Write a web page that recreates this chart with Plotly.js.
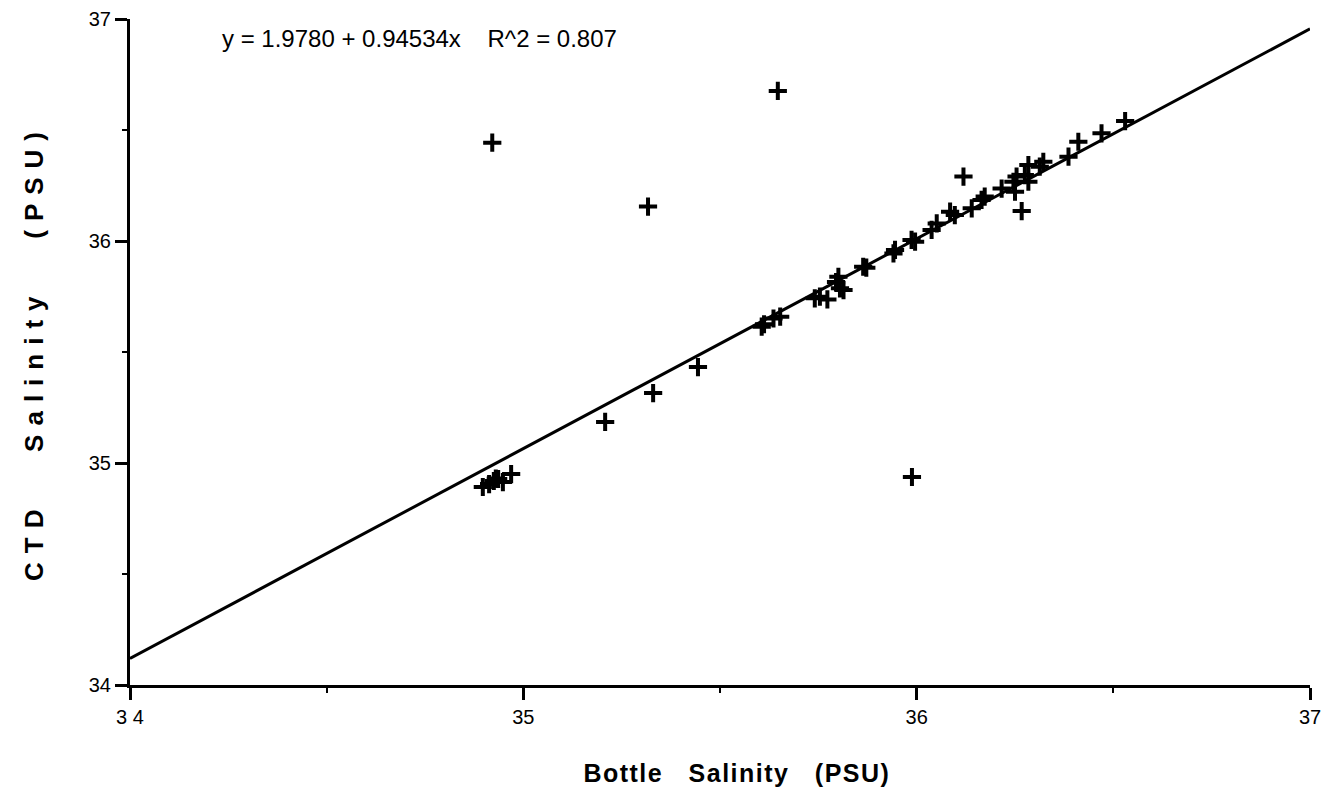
<!DOCTYPE html>
<html>
<head>
<meta charset="utf-8">
<script src="https://cdn.plot.ly/plotly-3.0.1.min.js"></script>
<style>
html,body{margin:0;padding:0;background:#fff;}
#chart{width:1331px;height:806px;}
.xtitle{letter-spacing:1.5px;}
.ytitle{letter-spacing:9px;}
</style>
</head>
<body>
<div id="chart"></div>
<script>
// Bottle vs CTD salinity (PSU)
const bottleSalinity = [
  34.897, 34.913, 34.925, 34.936, 34.948, 34.969, 34.930,
  34.921, 35.317, 35.647, 35.988,
  35.208, 35.330, 35.444,
  35.606, 35.612, 35.636, 35.653, 35.741, 35.754, 35.773, 35.805, 35.814, 35.801, 35.795,
  35.864, 35.872, 35.941, 35.945, 35.987, 35.996, 36.038, 36.051, 36.085, 36.097,
  36.119, 36.140, 36.165, 36.173, 36.216, 36.246, 36.250, 36.254, 36.267, 36.275,
  36.284, 36.284, 36.313, 36.322, 36.386, 36.411, 36.470, 36.530
];
const ctdSalinity = [
  34.892, 34.905, 34.919, 34.928, 34.914, 34.950, 34.930,
  36.443, 36.155, 36.676, 34.937,
  35.185, 35.315, 35.432,
  35.614, 35.625, 35.651, 35.659, 35.742, 35.749, 35.737, 35.787, 35.779, 35.839, 35.815,
  35.884, 35.880, 35.944, 35.960, 36.005, 35.997, 36.050, 36.079, 36.132, 36.117,
  36.290, 36.147, 36.185, 36.200, 36.236, 36.267, 36.222, 36.290, 36.135, 36.297,
  36.342, 36.267, 36.335, 36.357, 36.380, 36.447, 36.485, 36.540
];
// Regression shown on the chart
const fitIntercept = 1.9780;
const fitSlope = 0.94534;
const fitR2 = 0.807;
const fitX = [34, 37];
const fitY = fitX.map(v => fitIntercept + fitSlope * v);
const tickVals = [34, 35, 36, 37];
const tickText = ['3 4', '35', '36', '37'];
const yTickText = ['34', '35', '36', '37'];

const font = 'Liberation Sans, Arial, Helvetica, sans-serif';

const traces = [
  {
    x: fitX, y: fitY, mode: 'lines', type: 'scatter',
    line: {color: '#000', width: 3}, hoverinfo: 'skip', showlegend: false
  },
  {
    x: bottleSalinity, y: ctdSalinity, mode: 'markers', type: 'scatter',
    marker: {symbol: 'cross-thin', size: 13, color: '#000', line: {color: '#000', width: 4}},
    showlegend: false
  }
];

const layout = {
  width: 1331, height: 806,
  margin: {l: 130, r: 21, t: 19, b: 121},
  paper_bgcolor: '#fff', plot_bgcolor: '#fff',
  font: {family: font, color: '#000'},
  showlegend: false,
  xaxis: {
    range: [34, 37], tickvals: tickVals, ticktext: tickText,
    showgrid: false, zeroline: false,
    showline: true, linewidth: 3, linecolor: '#000',
    ticks: 'outside', ticklen: 12, tickwidth: 3, tickcolor: '#000',
    minor: {tickvals: [34.5, 35.5, 36.5], ticks: 'outside', ticklen: 5, tickwidth: 2, tickcolor: '#000', showgrid: false},
    tickfont: {family: font, size: 20, color: '#000'},
    title: {text: '<b>&nbsp;&nbsp;&nbsp;&nbsp;Bottle   Salinity   (PSU)</b>', font: {family: font, size: 25, color: '#000'}, standoff: 38}
  },
  yaxis: {
    range: [34, 37], tickvals: tickVals, ticktext: yTickText,
    showgrid: false, zeroline: false,
    showline: true, linewidth: 3, linecolor: '#000',
    ticks: 'outside', ticklen: 12, tickwidth: 3, tickcolor: '#000',
    minor: {tickvals: [34.5, 35.5, 36.5], ticks: 'outside', ticklen: 5, tickwidth: 2, tickcolor: '#000', showgrid: false},
    tickfont: {family: font, size: 20, color: '#000'},
    title: {text: '<b>CTD   Salinity   (PSU)</b>', font: {family: font, size: 26, color: '#000'}, standoff: 38}
  },
  annotations: [{
    xref: 'paper', yref: 'paper', x: 0.076, y: 0.97,
    xanchor: 'left', yanchor: 'middle', showarrow: false,
    text: 'y = ' + fitIntercept.toFixed(4) + ' + ' + fitSlope.toFixed(5) + 'x    R^2 = ' + fitR2.toFixed(3),
    font: {family: font, size: 24, color: '#000'}
  }]
};

Plotly.newPlot('chart', traces, layout, {displayModeBar: false, staticPlot: true});
</script>
</body>
</html>
